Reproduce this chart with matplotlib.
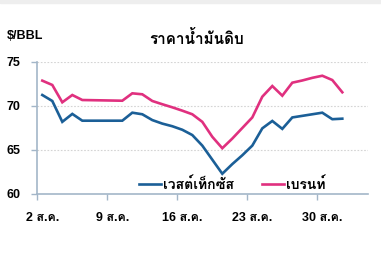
import matplotlib
matplotlib.use("Agg")
import matplotlib.pyplot as plt
from matplotlib import font_manager
from matplotlib.ft2font import FT2Font
from matplotlib.patches import Rectangle

# ---- data ----
days = list(range(2, 33))  # 2 ส.ค. .. 1 ก.ย.
wti = [71.25, 70.57, 68.2, 69.1, 68.33, 68.33, 68.33, 68.33, 68.33, 69.24,
       69.06, 68.4, 68.0, 67.7, 67.3, 66.7, 65.5, 63.9, 62.3, 63.4,
       64.4, 65.5, 67.46, 68.3, 67.4, 68.7, 68.88, 69.06, 69.24, 68.5,
       68.56]
brent = [72.88, 72.39, 70.42, 71.25, 70.68, 70.66, 70.64, 70.62, 70.6, 71.44,
         71.33, 70.57, 70.2, 69.85, 69.47, 69.06, 68.2, 66.5, 65.2, 66.3,
         67.5, 68.7, 71.06, 72.27, 71.17, 72.65, 72.9, 73.2, 73.44, 72.95,
         71.56]
tick_days = [2, 9, 16, 23, 30]
tick_labels = ["2 ส.ค.", "9 ส.ค.", "16 ส.ค.", "23 ส.ค.", "30 ส.ค."]
y_ticks = [60, 65, 70, 75]

BLUE = "#1b5f97"
PINK = "#e0307f"
AXIS = "#a3b6c8"

# pick a family that has Thai glyphs
thai = set()
for f in font_manager.fontManager.ttflist:
    try:
        if 0x0E23 in FT2Font(f.fname).get_charmap():
            thai.add(f.name)
    except Exception:
        pass
thai_font = "DejaVu Sans"
for name in ["Loma", "Sarabun", "Noto Sans Thai", "Garuda", "Norasi", "Anuphan"]:
    if name in thai:
        thai_font = name
        break
FAM = ["Liberation Sans", thai_font, "DejaVu Sans"]
plt.rcParams["font.family"] = FAM

fig = plt.figure(figsize=(3.81, 2.6), dpi=100)
fig.patches.append(Rectangle((0, 1 - 3 / 260), 1, 3 / 260, transform=fig.transFigure,
                             color="#eeeeee", zorder=0))
ax = fig.add_axes([37.3 / 381, 1 - 194 / 260, (368 - 37.3) / 381, 132 / 260])

ax.plot(days, wti, color=BLUE, lw=1.9, label="เวสต์เท็กซัส", solid_joinstyle="miter")
ax.plot(days, brent, color=PINK, lw=1.9, label="เบรนท์", solid_joinstyle="miter")

ax.set_xlim(1.5, 34.57)
ax.set_ylim(60, 75)
# category-style axis: tick marks between days, labels on the days
ax.set_xticks([d - 0.5 for d in tick_days])
ax.set_xticklabels([])
ax.set_xticks(tick_days, minor=True)
ax.set_xticklabels(tick_labels, minor=True, fontweight="bold", fontsize=9)
ax.set_yticks(y_ticks)
ax.set_yticklabels([str(v) for v in y_ticks], fontweight="bold", fontsize=9)
ax.tick_params(axis="x", which="major", length=4, width=1, color=AXIS)
ax.tick_params(axis="x", which="minor", length=0, pad=13)
ax.tick_params(axis="y", length=4, width=1, color=AXIS, pad=8)

for s in ["top", "right"]:
    ax.spines[s].set_visible(False)
for s in ["left", "bottom"]:
    ax.spines[s].set_color(AXIS)
    ax.spines[s].set_linewidth(1.2)

for v in y_ticks[1:]:
    ax.axhline(v, color="#d4d4d4", lw=0.8, ls=(0, (1.5, 1.5)), zorder=0)

leg = ax.legend(loc="lower left", bbox_to_anchor=(0.295, -0.015), ncol=2, frameon=False,
                handlelength=1.6, handletextpad=0.15, columnspacing=2.0,
                borderaxespad=0, borderpad=0.3,
                prop={"family": FAM, "weight": "bold", "size": 10})

fig.text(197 / 381, 1 - 38 / 260, "ราคาน้ำมันดิบ", ha="center", va="center",
         fontsize=11, fontweight="bold", family=FAM)
fig.text(7 / 381, 1 - 36 / 260, "$/BBL", ha="left", va="center",
         fontsize=9, fontweight="bold", family=FAM)

fig.savefig("out.png", dpi=100)
